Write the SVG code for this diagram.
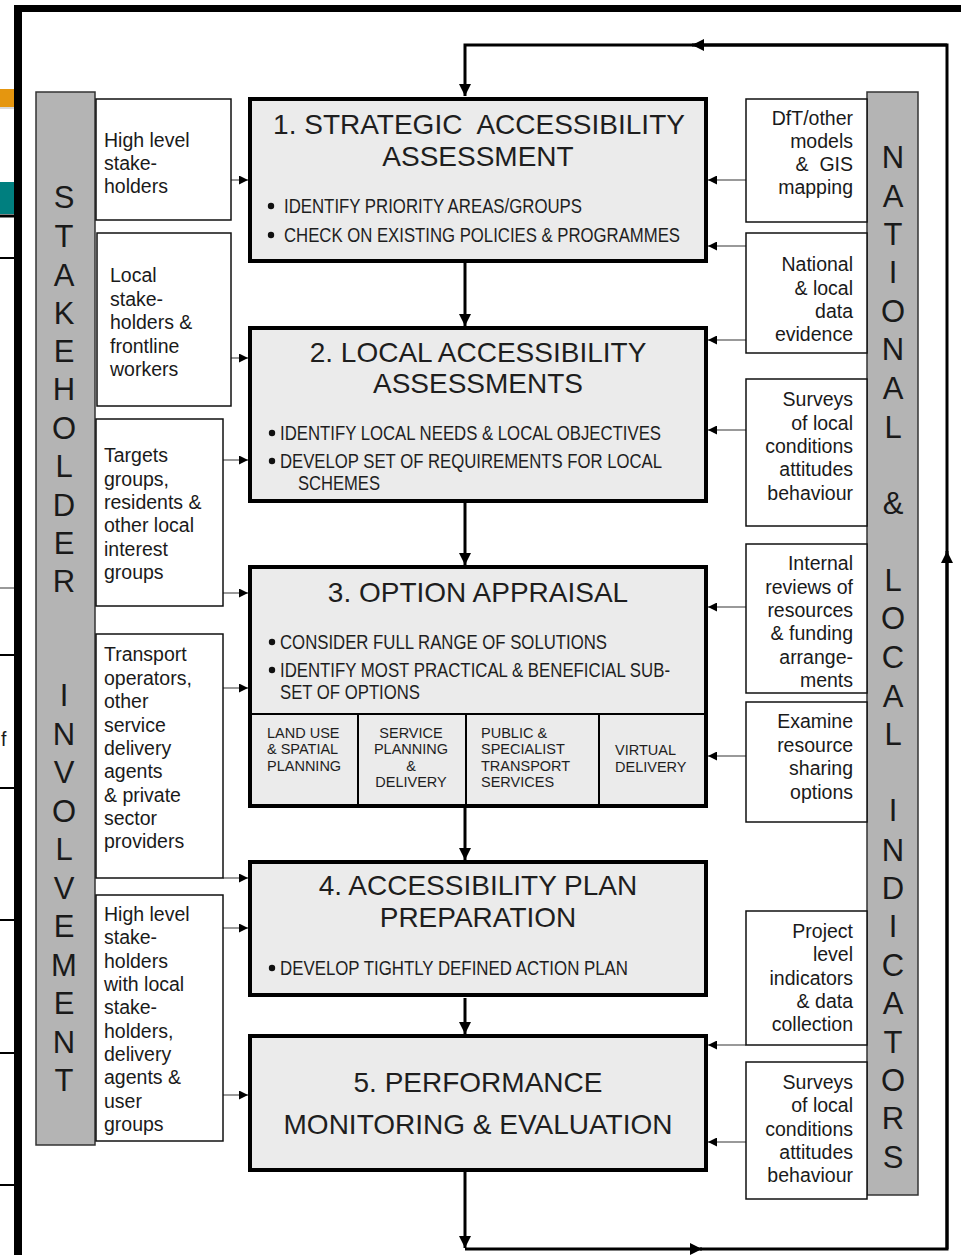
<svg xmlns="http://www.w3.org/2000/svg" width="961" height="1255" viewBox="0 0 961 1255">
  <style>
    .frame { fill: #000; }
    .bar { fill: #b4b4b4; stroke: #333; stroke-width: 1.5; }
    .barText { font-family: "Liberation Sans", Arial, sans-serif; font-size: 31px; fill: #1a1a1a; text-anchor: middle; }
    .side { fill: #fff; stroke: #111; stroke-width: 1.5; }
    .sideText { font-family: "Liberation Sans", Arial, sans-serif; font-size: 19.5px; fill: #1a1a1a; white-space: pre; }
    .right { text-anchor: end; }
    .main { fill: #ebebeb; stroke: #000; stroke-width: 4; }
    .title { font-family: "Liberation Sans", Arial, sans-serif; font-size: 28px; fill: #1e1e1e; text-anchor: middle; white-space: pre; }
    .bullet { font-family: "Liberation Sans", Arial, sans-serif; font-size: 20.5px; fill: #1e1e1e; }
    .sub { font-family: "Liberation Sans", Arial, sans-serif; font-size: 14.5px; fill: #1e1e1e; }
    .flow { fill: none; stroke: #000; stroke-width: 3; }
    .feed { fill: none; stroke: #999; stroke-width: 2; }
    .edge { fill: none; stroke: #000; stroke-width: 2; }
  </style>
  <defs>
    <marker id="bigHead" viewBox="0 0 10 10" refX="10" refY="5" markerWidth="12" markerHeight="12" markerUnits="userSpaceOnUse" orient="auto">
      <path d="M0,0 L10,5 L0,10 z" fill="#000"/>
    </marker>
    <marker id="smallHead" viewBox="0 0 10 10" refX="10" refY="5" markerWidth="9" markerHeight="9" markerUnits="userSpaceOnUse" orient="auto">
      <path d="M0,0 L10,5 L0,10 z" fill="#000"/>
    </marker>
  </defs>

  <rect width="961" height="1255" fill="#fff"/>

  <!-- page edge fragments on the left margin -->
  <g id="margin">
    <rect x="0" y="89" width="14" height="18" fill="#e5960f"/>
    <line x1="0" y1="108" x2="14" y2="108" stroke="#ccc" stroke-width="1.5"/>
    <rect x="0" y="182" width="14" height="32" fill="#007f7f"/>
    <line x1="0" y1="216" x2="14" y2="216" stroke="#000" stroke-width="3"/>
    <line x1="0" y1="258" x2="14" y2="258" stroke="#000" stroke-width="2"/>
    <line x1="0" y1="588" x2="14" y2="588" stroke="#777" stroke-width="1.5"/>
    <line x1="0" y1="655" x2="14" y2="655" stroke="#000" stroke-width="2"/>
    <line x1="0" y1="788" x2="14" y2="788" stroke="#000" stroke-width="2"/>
    <line x1="0" y1="920" x2="14" y2="920" stroke="#000" stroke-width="2"/>
    <line x1="0" y1="1053" x2="14" y2="1053" stroke="#000" stroke-width="2"/>
    <line x1="0" y1="1185" x2="14" y2="1185" stroke="#000" stroke-width="2"/>
    <text x="1" y="746" class="sideText" font-size="16">f</text>
  </g>

  <!-- outer frame -->
  <g id="outer-frame">
    <rect class="frame" x="14" y="5" width="947" height="7"/>
    <rect class="frame" x="14" y="5" width="8" height="1250"/>
  </g>

  <!-- connectors -->
  <g id="connectors">
    <!-- main flow between stages -->
    <line class="flow" x1="465" y1="263" x2="465" y2="326" marker-end="url(#bigHead)"/>
    <line class="flow" x1="465" y1="503" x2="465" y2="565" marker-end="url(#bigHead)"/>
    <line class="flow" x1="465" y1="808" x2="465" y2="860" marker-end="url(#bigHead)"/>
    <line class="flow" x1="465" y1="998" x2="465" y2="1034" marker-end="url(#bigHead)"/>
    <!-- feedback loop -->
    <line class="flow" x1="465" y1="1172" x2="465" y2="1248" marker-end="url(#bigHead)"/>
    <line class="flow" x1="465" y1="1249" x2="702" y2="1249" marker-end="url(#bigHead)"/>
    <polyline class="flow" points="700,1249 947,1249 947,45 695,45" stroke-width="3.5"/>
    <line class="flow" x1="947" y1="1249" x2="947" y2="551" marker-end="url(#bigHead)"/>
    <line class="flow" x1="947" y1="45" x2="692" y2="45" marker-end="url(#bigHead)"/>
    <polyline class="flow" points="697,45 465,45 465,96" stroke-width="4" marker-end="url(#bigHead)"/>

    <!-- stakeholder inputs -->
    <line class="feed" x1="231" y1="180" x2="248" y2="180" marker-end="url(#smallHead)"/>
    <line class="feed" x1="231" y1="358" x2="248" y2="358" marker-end="url(#smallHead)"/>
    <line class="feed" x1="223" y1="460" x2="248" y2="460" marker-end="url(#smallHead)"/>
    <line class="feed" x1="223" y1="593" x2="248" y2="593" marker-end="url(#smallHead)"/>
    <line class="feed" x1="223" y1="688" x2="248" y2="688" marker-end="url(#smallHead)"/>
    <line class="feed" x1="223" y1="878" x2="248" y2="878" marker-end="url(#smallHead)"/>
    <line class="feed" x1="223" y1="928" x2="248" y2="928" marker-end="url(#smallHead)"/>
    <line class="feed" x1="223" y1="1095" x2="248" y2="1095" marker-end="url(#smallHead)"/>

    <!-- indicator inputs -->
    <line class="feed" x1="746" y1="180" x2="708" y2="180" marker-end="url(#smallHead)"/>
    <line class="feed" x1="746" y1="246" x2="708" y2="246" marker-end="url(#smallHead)"/>
    <line class="feed" x1="746" y1="340" x2="708" y2="340" marker-end="url(#smallHead)"/>
    <line class="feed" x1="746" y1="430" x2="708" y2="430" marker-end="url(#smallHead)"/>
    <line class="feed" x1="746" y1="607" x2="708" y2="607" marker-end="url(#smallHead)"/>
    <line class="feed" x1="746" y1="756" x2="708" y2="756" marker-end="url(#smallHead)"/>
    <line class="feed" x1="746" y1="1045" x2="708" y2="1045" marker-end="url(#smallHead)"/>
    <line class="feed" x1="746" y1="1142" x2="708" y2="1142" marker-end="url(#smallHead)"/>
  </g>

  <!-- stakeholder involvement bar -->
  <g id="stakeholder-bar">
    <rect class="bar" x="36" y="92" width="59" height="1053"/>
    <text class="barText" x="64" y="208">S</text>
    <text class="barText" x="64" y="247">T</text>
    <text class="barText" x="64" y="286">A</text>
    <text class="barText" x="64" y="324">K</text>
    <text class="barText" x="64" y="362">E</text>
    <text class="barText" x="64" y="400">H</text>
    <text class="barText" x="64" y="439">O</text>
    <text class="barText" x="64" y="477">L</text>
    <text class="barText" x="64" y="516">D</text>
    <text class="barText" x="64" y="554">E</text>
    <text class="barText" x="64" y="592">R</text>
    <text class="barText" x="64" y="706">I</text>
    <text class="barText" x="64" y="745">N</text>
    <text class="barText" x="64" y="783">V</text>
    <text class="barText" x="64" y="822">O</text>
    <text class="barText" x="64" y="860">L</text>
    <text class="barText" x="64" y="899">V</text>
    <text class="barText" x="64" y="937">E</text>
    <text class="barText" x="64" y="976">M</text>
    <text class="barText" x="64" y="1014">E</text>
    <text class="barText" x="64" y="1053">N</text>
    <text class="barText" x="64" y="1091">T</text>
  </g>

  <!-- national & local indicators bar -->
  <g id="indicators-bar">
    <rect class="bar" x="867" y="92" width="51" height="1103"/>
    <text class="barText" x="893" y="168">N</text>
    <text class="barText" x="893" y="207">A</text>
    <text class="barText" x="893" y="245">T</text>
    <text class="barText" x="893" y="283">I</text>
    <text class="barText" x="893" y="322">O</text>
    <text class="barText" x="893" y="360">N</text>
    <text class="barText" x="893" y="399">A</text>
    <text class="barText" x="893" y="438">L</text>
    <text class="barText" x="893" y="514">&amp;</text>
    <text class="barText" x="893" y="591">L</text>
    <text class="barText" x="893" y="629">O</text>
    <text class="barText" x="893" y="668">C</text>
    <text class="barText" x="893" y="707">A</text>
    <text class="barText" x="893" y="745">L</text>
    <text class="barText" x="893" y="821">I</text>
    <text class="barText" x="893" y="861">N</text>
    <text class="barText" x="893" y="899">D</text>
    <text class="barText" x="893" y="937">I</text>
    <text class="barText" x="893" y="976">C</text>
    <text class="barText" x="893" y="1014">A</text>
    <text class="barText" x="893" y="1053">T</text>
    <text class="barText" x="893" y="1091">O</text>
    <text class="barText" x="893" y="1129">R</text>
    <text class="barText" x="893" y="1168">S</text>
  </g>

  <!-- stakeholder boxes -->
  <g id="stake-1">
    <rect class="side" x="96" y="99" width="135" height="121"/>
    <text class="sideText" x="104" y="147">High level</text>
    <text class="sideText" x="104" y="170">stake-</text>
    <text class="sideText" x="104" y="193">holders</text>
  </g>
  <g id="stake-2">
    <rect class="side" x="97" y="233" width="134" height="173"/>
    <text class="sideText" x="110" y="282">Local</text>
    <text class="sideText" x="110" y="305.5">stake-</text>
    <text class="sideText" x="110" y="329">holders &amp;</text>
    <text class="sideText" x="110" y="352.5">frontline</text>
    <text class="sideText" x="110" y="376">workers</text>
  </g>
  <g id="stake-3">
    <rect class="side" x="96" y="419" width="127" height="187"/>
    <text class="sideText" x="104" y="462">Targets</text>
    <text class="sideText" x="104" y="485.5">groups,</text>
    <text class="sideText" x="104" y="509">residents &amp;</text>
    <text class="sideText" x="104" y="532">other local</text>
    <text class="sideText" x="104" y="555.5">interest</text>
    <text class="sideText" x="104" y="579">groups</text>
  </g>
  <g id="stake-4">
    <rect class="side" x="96" y="634" width="127" height="244"/>
    <text class="sideText" x="104" y="661">Transport</text>
    <text class="sideText" x="104" y="684.5">operators,</text>
    <text class="sideText" x="104" y="708">other</text>
    <text class="sideText" x="104" y="731.5">service</text>
    <text class="sideText" x="104" y="755">delivery</text>
    <text class="sideText" x="104" y="778">agents</text>
    <text class="sideText" x="104" y="801.5">&amp; private</text>
    <text class="sideText" x="104" y="825">sector</text>
    <text class="sideText" x="104" y="848">providers</text>
  </g>
  <g id="stake-5">
    <rect class="side" x="96" y="895" width="127" height="246"/>
    <text class="sideText" x="104" y="921">High level</text>
    <text class="sideText" x="104" y="944">stake-</text>
    <text class="sideText" x="104" y="967.5">holders</text>
    <text class="sideText" x="104" y="991">with local</text>
    <text class="sideText" x="104" y="1014">stake-</text>
    <text class="sideText" x="104" y="1037.5">holders,</text>
    <text class="sideText" x="104" y="1061">delivery</text>
    <text class="sideText" x="104" y="1084">agents &amp;</text>
    <text class="sideText" x="104" y="1107.5">user</text>
    <text class="sideText" x="104" y="1131">groups</text>
  </g>

  <!-- indicator boxes -->
  <g id="ind-1">
    <rect class="side" x="746" y="99" width="121" height="123"/>
    <text class="sideText right" x="853" y="125">DfT/other</text>
    <text class="sideText right" x="853" y="148">models</text>
    <text class="sideText right" x="853" y="171">&amp;  GIS</text>
    <text class="sideText right" x="853" y="194">mapping</text>
  </g>
  <g id="ind-2">
    <rect class="side" x="746" y="233" width="121" height="120"/>
    <text class="sideText right" x="853" y="271">National</text>
    <text class="sideText right" x="853" y="294.5">&amp; local</text>
    <text class="sideText right" x="853" y="318">data</text>
    <text class="sideText right" x="853" y="341">evidence</text>
  </g>
  <g id="ind-3">
    <rect class="side" x="746" y="379" width="121" height="147"/>
    <text class="sideText right" x="853" y="406">Surveys</text>
    <text class="sideText right" x="853" y="429.5">of local</text>
    <text class="sideText right" x="853" y="453">conditions</text>
    <text class="sideText right" x="853" y="476">attitudes</text>
    <text class="sideText right" x="853" y="499.5">behaviour</text>
  </g>
  <g id="ind-4">
    <rect class="side" x="746" y="544" width="121" height="149"/>
    <text class="sideText right" x="853" y="570">Internal</text>
    <text class="sideText right" x="853" y="593.5">reviews of</text>
    <text class="sideText right" x="853" y="617">resources</text>
    <text class="sideText right" x="853" y="640">&amp; funding</text>
    <text class="sideText right" x="853" y="663.5">arrange-</text>
    <text class="sideText right" x="853" y="687">ments</text>
  </g>
  <g id="ind-5">
    <rect class="side" x="746" y="702" width="121" height="120"/>
    <text class="sideText right" x="853" y="728">Examine</text>
    <text class="sideText right" x="853" y="752">resource</text>
    <text class="sideText right" x="853" y="775">sharing</text>
    <text class="sideText right" x="853" y="798.5">options</text>
  </g>
  <g id="ind-6">
    <rect class="side" x="746" y="911" width="121" height="134"/>
    <text class="sideText right" x="853" y="938">Project</text>
    <text class="sideText right" x="853" y="961">level</text>
    <text class="sideText right" x="853" y="984.5">indicators</text>
    <text class="sideText right" x="853" y="1008">&amp; data</text>
    <text class="sideText right" x="853" y="1031">collection</text>
  </g>
  <g id="ind-7">
    <rect class="side" x="746" y="1062" width="121" height="137"/>
    <text class="sideText right" x="853" y="1089">Surveys</text>
    <text class="sideText right" x="853" y="1112">of local</text>
    <text class="sideText right" x="853" y="1135.5">conditions</text>
    <text class="sideText right" x="853" y="1159">attitudes</text>
    <text class="sideText right" x="853" y="1182">behaviour</text>
  </g>

  <!-- stage 1 -->
  <g id="stage-1">
    <rect class="main" x="250" y="99" width="456" height="162"/>
    <text class="title" x="479" y="134">1. STRATEGIC  ACCESSIBILITY</text>
    <text class="title" x="478" y="166">ASSESSMENT</text>
    <circle cx="271" cy="206" r="3.2" fill="#111"/>
    <text class="bullet" x="284" y="213" textLength="298" lengthAdjust="spacingAndGlyphs">IDENTIFY PRIORITY AREAS/GROUPS</text>
    <circle cx="271" cy="235" r="3.2" fill="#111"/>
    <text class="bullet" x="284" y="242" textLength="396" lengthAdjust="spacingAndGlyphs">CHECK ON EXISTING POLICIES &amp; PROGRAMMES</text>
  </g>

  <!-- stage 2 -->
  <g id="stage-2">
    <rect class="main" x="250" y="328" width="456" height="173"/>
    <text class="title" x="478" y="362">2. LOCAL ACCESSIBILITY</text>
    <text class="title" x="478" y="393">ASSESSMENTS</text>
    <circle cx="272" cy="433" r="3.2" fill="#111"/>
    <text class="bullet" x="280" y="440" textLength="381" lengthAdjust="spacingAndGlyphs">IDENTIFY LOCAL NEEDS &amp; LOCAL OBJECTIVES</text>
    <circle cx="272" cy="461" r="3.2" fill="#111"/>
    <text class="bullet" x="280" y="468" textLength="382" lengthAdjust="spacingAndGlyphs">DEVELOP SET OF REQUIREMENTS FOR LOCAL</text>
    <text class="bullet" x="298" y="490" textLength="82" lengthAdjust="spacingAndGlyphs">SCHEMES</text>
  </g>

  <!-- stage 3 with delivery strands -->
  <g id="stage-3">
    <rect class="main" x="250" y="567" width="456" height="239"/>
    <text class="title" x="478" y="602">3. OPTION APPRAISAL</text>
    <circle cx="272" cy="642" r="3.2" fill="#111"/>
    <text class="bullet" x="280" y="649" textLength="327" lengthAdjust="spacingAndGlyphs">CONSIDER FULL RANGE OF SOLUTIONS</text>
    <circle cx="272" cy="670" r="3.2" fill="#111"/>
    <text class="bullet" x="280" y="677" textLength="390" lengthAdjust="spacingAndGlyphs">IDENTIFY MOST PRACTICAL &amp; BENEFICIAL SUB-</text>
    <text class="bullet" x="280" y="699" textLength="140" lengthAdjust="spacingAndGlyphs">SET OF OPTIONS</text>
    <line class="edge" x1="250" y1="714" x2="706" y2="714" stroke-width="4"/>
    <line class="edge" x1="358" y1="714" x2="358" y2="806" stroke-width="4"/>
    <line class="edge" x1="466" y1="714" x2="466" y2="806" stroke-width="4"/>
    <line class="edge" x1="599" y1="714" x2="599" y2="806" stroke-width="4"/>
  </g>
  <g id="strand-land-use">
    <text class="sub" x="267" y="738">LAND USE</text>
    <text class="sub" x="267" y="754">&amp; SPATIAL</text>
    <text class="sub" x="267" y="771">PLANNING</text>
  </g>
  <g id="strand-service">
    <text class="sub" x="411" y="738" text-anchor="middle">SERVICE</text>
    <text class="sub" x="411" y="754" text-anchor="middle">PLANNING</text>
    <text class="sub" x="411" y="771" text-anchor="middle">&amp;</text>
    <text class="sub" x="411" y="787" text-anchor="middle">DELIVERY</text>
  </g>
  <g id="strand-public">
    <text class="sub" x="481" y="738">PUBLIC &amp;</text>
    <text class="sub" x="481" y="754">SPECIALIST</text>
    <text class="sub" x="481" y="771">TRANSPORT</text>
    <text class="sub" x="481" y="787">SERVICES</text>
  </g>
  <g id="strand-virtual">
    <text class="sub" x="615" y="755">VIRTUAL</text>
    <text class="sub" x="615" y="772">DELIVERY</text>
  </g>

  <!-- stage 4 -->
  <g id="stage-4">
    <rect class="main" x="250" y="862" width="456" height="133"/>
    <text class="title" x="478" y="895">4. ACCESSIBILITY PLAN</text>
    <text class="title" x="478" y="927">PREPARATION</text>
    <circle cx="272" cy="968" r="3.2" fill="#111"/>
    <text class="bullet" x="280" y="975" textLength="348" lengthAdjust="spacingAndGlyphs">DEVELOP TIGHTLY DEFINED ACTION PLAN</text>
  </g>

  <!-- stage 5 -->
  <g id="stage-5">
    <rect class="main" x="250" y="1036" width="456" height="134"/>
    <text class="title" x="478" y="1092">5. PERFORMANCE</text>
    <text class="title" x="478" y="1134">MONITORING &amp; EVALUATION</text>
  </g>
</svg>
